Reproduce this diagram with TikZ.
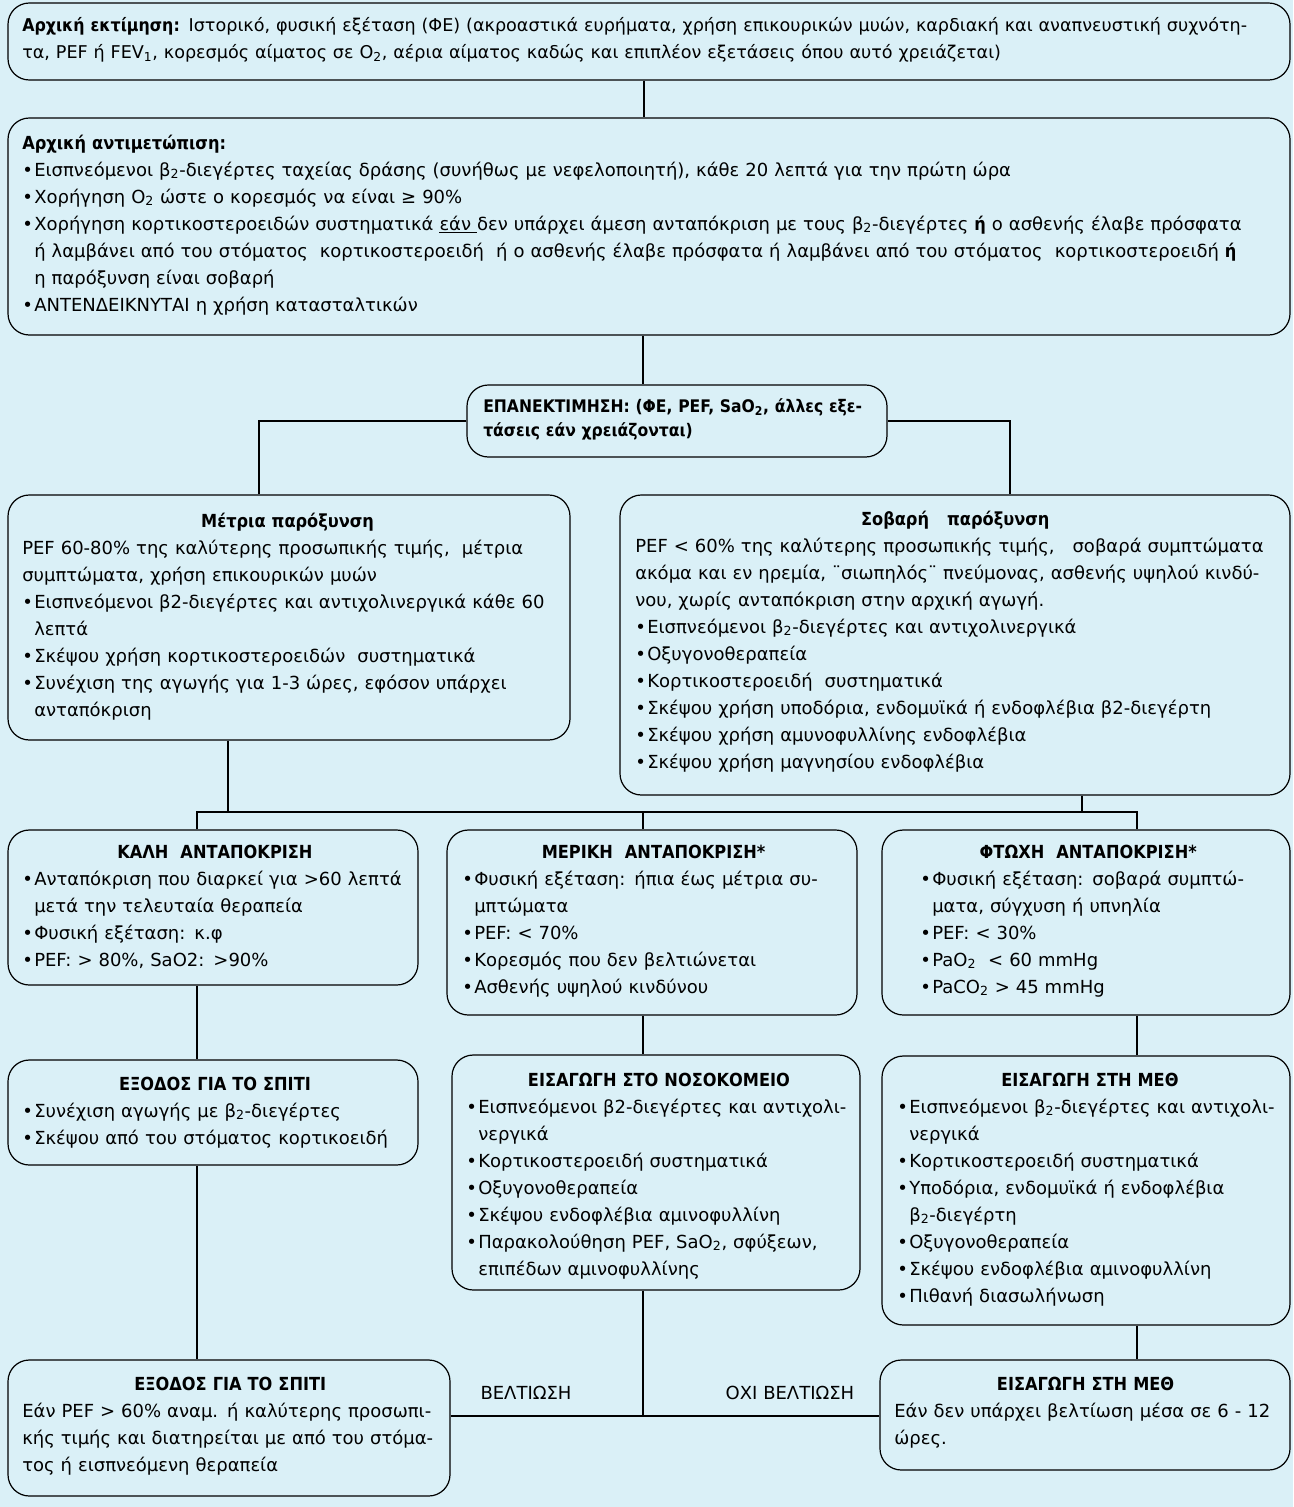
\documentclass[tikz,border=0pt]{standalone}
\usepackage{fontspec}
\setmainfont{DejaVu Sans}[BoldFont={DejaVu Sans Condensed Bold}]
\usetikzlibrary{fit,calc}
\definecolor{bgc}{RGB}{218,240,247}
\newlength\bw \setlength\bw{9pt}
\newcommand\bi[1]{\par\hangindent=\bw\hangafter=1\noindent\hbox to\bw{\textbullet\hss}#1\par}
\newcommand\ttl[1]{{\centering\bfseries #1\par}}
\newcommand\sbs[1]{\textsubscript{#1}}
\hyphenpenalty=10000
\exhyphenpenalty=10000
\tolerance=9999
\emergencystretch=3em
\tikzset{
  box/.style={draw=black, line width=0.9pt, rounded corners=16pt, inner sep=0pt, fill=bgc},
  txt/.style={inner sep=0pt, anchor=base west, font=\fontsize{13.5}{20.25}\selectfont},
  lbl/.style={inner sep=0pt, font=\fontsize{13.5}{16}\selectfont},
  conn/.style={draw=black, line width=1.6pt}
}
\begin{document}
\begin{tikzpicture}[x=0.75pt, y=-0.75pt]
\fill[bgc] (0,0) rectangle (1293,1507);
\useasboundingbox (0,0) rectangle (1293,1507);

% junction coordinates
\coordinate (xTop) at (644,0);
\coordinate (xL4) at (259,0);
\coordinate (xR5) at (1010,0);
\coordinate (jM4) at (228,812);
\coordinate (jM5) at (1082,812);
\coordinate (jL) at (197,812);
\coordinate (jM) at (643,812);
\coordinate (jR) at (1137,812);
\coordinate (jB) at (643,1416);

% boxes
\node[box, fit={(8,3) (1290,80)}] (b1) {};
\node[box, fit={(8,118) (1290,335)}] (b2) {};
\node[box, fit={(467,385) (887,457)}] (b3) {};
\node[box, fit={(8,495) (570,740)}] (b4) {};
\node[box, fit={(620,495) (1290,795)}] (b5) {};
\node[box, fit={(8,830) (418,985)}] (b6) {};
\node[box, fit={(447,830) (857,1015)}] (b7) {};
\node[box, fit={(882,830) (1290,1015)}] (b8) {};
\node[box, fit={(8,1060) (418,1165)}] (b9) {};
\node[box, fit={(452,1055) (860,1290)}] (b10) {};
\node[box, fit={(882,1056) (1290,1325)}] (b11) {};
\node[box, fit={(8,1360) (450,1496)}] (b12) {};
\node[box, fit={(880,1360) (1290,1470)}] (b13) {};

% texts
\node[txt, text width=937.5pt, font=\fontsize{13.2}{20.25}\selectfont] (t1) at (22,31) {\textbf{Αρχική εκτίμηση:} Ιστορικό, φυσική εξέταση (ΦΕ) (ακροαστικά ευρήματα, χρήση επικουρικών μυών, καρδιακή και αναπνευστική συχνότη-\linebreak τα, PEF ή FEV\sbs{1}, κορεσμός αίματος σε O\sbs{2}, αέρια αίματος καδώς και επιπλέον εξετάσεις όπου αυτό χρειάζεται)};

\node[txt, text width=942pt] (t2) at (22,149) {\textbf{Αρχική αντιμετώπιση:}\par
\bi{Εισπνεόμενοι β\sbs{2}-διεγέρτες ταχείας δράσης (συνήθως με νεφελοποιητή), κάθε 20 λεπτά για την πρώτη ώρα}
\bi{Χορήγηση O\sbs{2} ώστε ο κορεσμός να είναι ≥ 90\%}
\bi{Χορήγηση κορτικοστεροειδών συστηματικά \underline{εάν }δεν υπάρχει άμεση ανταπόκριση με τους β\sbs{2}-διεγέρτες \textbf{ή} ο ασθενής έλαβε πρόσφατα\linebreak ή λαμβάνει από του στόματος\ \ κορτικοστεροειδή\ \ ή ο ασθενής έλαβε πρόσφατα ή λαμβάνει από του στόματος\ \ κορτικοστεροειδή \textbf{ή}\linebreak η παρόξυνση είναι σοβαρή}
\bi{ΑΝΤΕΝΔΕΙΚΝΥΤΑΙ η χρήση κατασταλτικών}};

\node[txt, text width=293pt, font=\fontsize{13}{18}\selectfont] (t3) at (483,412) {\bfseries ΕΠΑΝΕΚΤΙΜΗΣΗ: (ΦΕ, PEF, SaO\sbs{2}, άλλες εξε-\linebreak τάσεις εάν χρειάζονται)};

\node[txt, text width=398pt] (t4) at (22,527) {\ttl{Μέτρια παρόξυνση}
PEF 60-80\% της καλύτερης προσωπικής τιμής,\ \ μέτρια\linebreak συμπτώματα, χρήση επικουρικών μυών\par
\bi{Εισπνεόμενοι β2-διεγέρτες και αντιχολινεργικά κάθε 60\linebreak λεπτά}
\bi{Σκέψου χρήση κορτικοστεροειδών\ \ συστηματικά}
\bi{Συνέχιση της αγωγής για 1-3 ώρες, εφόσον υπάρχει\linebreak ανταπόκριση}};

\node[txt, text width=480pt] (t5) at (635,525) {\ttl{Σοβαρή\ \ \ παρόξυνση}
PEF < 60\% της καλύτερης προσωπικής τιμής,\ \ \ σοβαρά συμπτώματα\linebreak ακόμα και εν ηρεμία, ¨σιωπηλός¨ πνεύμονας, ασθενής υψηλού κινδύ-\linebreak νου, χωρίς ανταπόκριση στην αρχική αγωγή.\par
\bi{Εισπνεόμενοι β\sbs{2}-διεγέρτες και αντιχολινεργικά}
\bi{Οξυγονοθεραπεία}
\bi{Κορτικοστεροειδή\ \ συστηματικά}
\bi{Σκέψου χρήση υποδόρια, ενδομυϊκά ή ενδοφλέβια β2-διεγέρτη}
\bi{Σκέψου χρήση αμυνοφυλλίνης ενδοφλέβια}
\bi{Σκέψου χρήση μαγνησίου ενδοφλέβια}};

\node[txt, text width=289pt] (t6) at (22,858) {\ttl{ΚΑΛΗ\ \ ΑΝΤΑΠΟΚΡΙΣΗ}
\bi{Ανταπόκριση που διαρκεί για >60 λεπτά\linebreak μετά την τελευταία θεραπεία}
\bi{Φυσική εξέταση: κ.φ}
\bi{PEF: > 80\%, SaO2: >90\%}};

\node[txt, text width=287pt] (t7) at (462,858) {\ttl{ΜΕΡΙΚΗ\ \ ΑΝΤΑΠΟΚΡΙΣΗ*}
\bi{Φυσική εξέταση: ήπια έως μέτρια συ-\linebreak μπτώματα}
\bi{PEF: < 70\%}
\bi{Κορεσμός που δεν βελτιώνεται}
\bi{Ασθενής υψηλού κινδύνου}};

\node[txt, text width=252pt] (t8) at (920,858) {\ttl{ΦΤΩΧΗ\ \ ΑΝΤΑΠΟΚΡΙΣΗ*}
\bi{Φυσική εξέταση: σοβαρά συμπτώ-\linebreak ματα, σύγχυση ή υπνηλία}
\bi{PEF: < 30\%}
\bi{PaO\sbs{2}\ \ < 60 mmHg}
\bi{PaCO\sbs{2} > 45 mmHg}};

\node[txt, text width=289pt] (t9) at (22,1090) {\ttl{ΕΞΟΔΟΣ ΓΙΑ ΤΟ ΣΠΙΤΙ}
\bi{Συνέχιση αγωγής με β\sbs{2}-διεγέρτες}
\bi{Σκέψου από του στόματος κορτικοειδή}};

\node[txt, text width=289pt] (t10) at (466,1086) {\ttl{ΕΙΣΑΓΩΓΗ ΣΤΟ ΝΟΣΟΚΟΜΕΙΟ}
\bi{Εισπνεόμενοι β2-διεγέρτες και αντιχολι-\linebreak νεργικά}
\bi{Κορτικοστεροειδή συστηματικά}
\bi{Οξυγονοθεραπεία}
\bi{Σκέψου ενδοφλέβια αμινοφυλλίνη}
\bi{Παρακολούθηση PEF, SaO\sbs{2}, σφύξεων,\linebreak επιπέδων αμινοφυλλίνης}};

\node[txt, text width=289pt] (t11) at (897,1086) {\ttl{ΕΙΣΑΓΩΓΗ ΣΤΗ ΜΕΘ}
\bi{Εισπνεόμενοι β\sbs{2}-διεγέρτες και αντιχολι-\linebreak νεργικά}
\bi{Κορτικοστεροειδή συστηματικά}
\bi{Υποδόρια, ενδομυϊκά ή ενδοφλέβια\linebreak β\sbs{2}-διεγέρτη}
\bi{Οξυγονοθεραπεία}
\bi{Σκέψου ενδοφλέβια αμινοφυλλίνη}
\bi{Πιθανή διασωλήνωση}};

\node[txt, text width=312pt] (t12) at (22,1390) {\ttl{ΕΞΟΔΟΣ ΓΙΑ ΤΟ ΣΠΙΤΙ}
Εάν PEF > 60\% αναμ. ή καλύτερης προσωπι-\linebreak κής τιμής και διατηρείται με από του στόμα-\linebreak τος ή εισπνεόμενη θεραπεία};

\node[txt, text width=287pt] (t13) at (894,1390) {\ttl{ΕΙΣΑΓΩΓΗ ΣΤΗ ΜΕΘ}
Εάν δεν υπάρχει βελτίωση μέσα σε 6 - 12\linebreak ώρες.};

\node[lbl] (l1) at (526,1393) {ΒΕΛΤΙΩΣΗ};
\node[lbl] (l2) at (790,1393) {ΟΧΙ ΒΕΛΤΙΩΣΗ};

% connectors
\draw[conn] (b1.south -| xTop) -- (b2.north -| xTop);
\draw[conn] (b2.south -| jM) -- (b3.north -| jM);
\draw[conn] (b3.west) -| (b4.north -| xL4);
\draw[conn] (b3.east) -| (b5.north -| xR5);
\draw[conn] (b4.south -| jM4) -- (jM4);
\draw[conn] (b5.south -| jM5) -- (jM5);
\draw[conn] (b6.north -| jL) -- (jL) -- (jR) -- (b8.north -| jR);
\draw[conn] (jM) -- (b7.north -| jM);
\draw[conn] (b6.south -| jL) -- (b9.north -| jL);
\draw[conn] (b7.south -| jM) -- (b10.north -| jM);
\draw[conn] (b8.south -| jR) -- (b11.north -| jR);
\draw[conn] (b9.south -| jL) -- (b12.north -| jL);
\draw[conn] (b11.south -| jR) -- (b13.north -| jR);
\draw[conn] (b10.south -| jB) -- (jB);
\draw[conn] (b12.east |- jB) -- (b13.west |- jB);
\end{tikzpicture}
\end{document}
